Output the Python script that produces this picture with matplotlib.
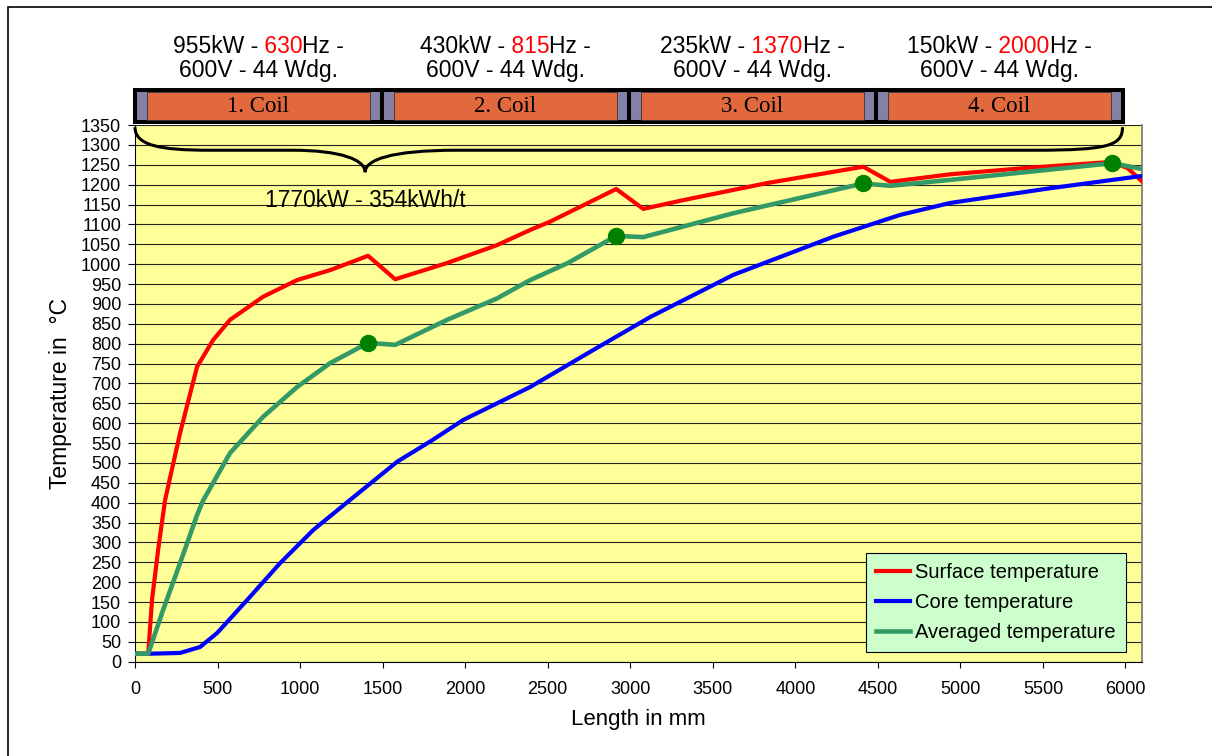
import numpy as np
import matplotlib.pyplot as plt
from matplotlib.patches import Rectangle, PathPatch
from matplotlib.path import Path
from matplotlib import transforms

plt.rcParams['font.family'] = ['Liberation Sans', 'DejaVu Sans']

# temperatures (length in mm, temperature in degC)
surface_x = [0, 80, 103, 140, 182, 205, 273, 376, 473, 576, 776, 982, 1182, 1412,
             1576, 1891, 2194, 2394, 2515, 2915, 3079, 3321, 3830, 4412, 4576, 4939,
             5400, 5909, 6012, 6103]
surface_t = [20, 20, 155, 281, 406, 449, 575, 742, 809, 860, 918, 960, 985, 1021,
             962, 1003, 1048, 1086, 1107, 1189, 1139, 1161, 1204, 1245, 1207, 1226,
             1242, 1257, 1242, 1207]

core_x = [0, 80, 273, 394, 497, 679, 879, 1079, 1303, 1588, 1800, 1988, 2394, 2776,
          3121, 3624, 4230, 4636, 4939, 5545, 6103]
core_t = [20, 20, 22, 37, 72, 155, 248, 331, 407, 503, 557, 608, 691, 784,
          867, 973, 1069, 1124, 1154, 1191, 1222]

avg_x = [0, 80, 170, 273, 376, 412, 576, 776, 982, 1182, 1412, 1576, 1891, 2194,
         2394, 2618, 2915, 3079, 3624, 4412, 4576, 4939, 5921, 6103]
avg_t = [20, 20, 130, 248, 369, 405, 525, 616, 691, 751, 802, 797, 860, 914,
         960, 1002, 1071, 1068, 1128, 1203, 1197, 1212, 1254, 1239]

marker_x = [1412, 2915, 4412, 5921]
marker_t = [802, 1071, 1203, 1254]

coil_start = [0, 1496, 2992, 4488]
coil_len = 1496
coil_power = ['955kW', '430kW', '235kW', '150kW']
coil_freq = ['630', '815', '1370', '2000']
coil_line2 = '600V - 44 Wdg.'
total_label = '1770kW - 354kWh/t'

fig = plt.figure(figsize=(12.12, 7.56), dpi=100)
ax = fig.add_axes([135/1212, 1-661.7/756, 1007/1212, 536.7/756])
ax.set_facecolor('#FFFF99')

ax.plot(surface_x, surface_t, color='#FF0000', lw=3, label='Surface temperature',
        zorder=3, solid_joinstyle='round')
ax.plot(core_x, core_t, color='#0000FF', lw=3, label='Core temperature',
        zorder=3, solid_joinstyle='round')
ax.plot(avg_x, avg_t, color='#339966', lw=3.3, label='Averaged temperature',
        zorder=3, solid_joinstyle='round')
ax.plot(marker_x, marker_t, 'o', color='#008000', ms=11.5, zorder=4)

ax.set_xlim(0, 6100)
ax.set_ylim(0, 1350)
ax.set_xticks(np.arange(0, 6001, 500))
ax.set_yticks(np.arange(0, 1351, 50))
ax.yaxis.grid(True, color='#222222', lw=0.8)
ax.set_axisbelow(True)
ax.tick_params(axis='y', labelsize=13, length=5, pad=5)
ax.tick_params(axis='x', labelsize=13, length=4, pad=10)
ax.spines['top'].set_visible(False)
ax.spines['right'].set_color('#808080')
ax.spines['right'].set_linewidth(1.3)
ax.set_xlabel('Length in mm', fontsize=16, labelpad=8)
ax.set_ylabel('Temperature in  °C', fontsize=16.5, labelpad=6)

leg = ax.legend(loc='lower right', bbox_to_anchor=(0.984, 0.018), borderaxespad=0,
                fontsize=14.5, facecolor='#CCFFCC', edgecolor='black', framealpha=1,
                fancybox=False, handlelength=1.7, handletextpad=0.25, labelspacing=0.55,
                borderpad=0.5)
leg.get_frame().set_linewidth(0.8)

trans = transforms.blended_transform_factory(ax.transData, ax.transAxes)

# coil bar above the plot
cap = 72
for i, x0 in enumerate(coil_start):
    ax.add_patch(Rectangle((x0, 1.0056), coil_len, 0.0596, transform=trans,
                           facecolor='#8580A8', edgecolor='black', lw=2.9,
                           clip_on=False, zorder=5))
    ax.add_patch(Rectangle((x0 + cap, 1.0093), coil_len - 2*cap, 0.0522, transform=trans,
                           facecolor='#E2693E', edgecolor='#333333', lw=0.6,
                           clip_on=False, zorder=6))
    ax.text(x0 + coil_len/2, 1.0354, f'{i+1}. Coil', family=['Liberation Serif', 'DejaVu Serif'],
            fontsize=16.5, ha='center', va='center', transform=trans, zorder=7)

# header text, frequency in red
groups = []
for i, x0 in enumerate(coil_start):
    xc = x0 + coil_len/2
    t0 = ax.text(xc, 1.1347, coil_power[i] + ' -', fontsize=16.5, ha='left',
                 va='baseline', transform=trans)
    t1 = ax.annotate(' ' + coil_freq[i], xy=(1, 0), xycoords=t0, va='bottom',
                     ha='left', color='#FF0000', fontsize=16.5)
    t2 = ax.annotate('Hz -', xy=(1, 0), xycoords=t1, va='bottom', ha='left',
                     fontsize=16.5)
    groups.append((t0, t2))
    ax.text(xc, 1.090, coil_line2, fontsize=16.5, ha='center', va='baseline',
            transform=trans)

# curly brace spanning all coils
brace = Path([(0, 0.996), (0, 0.962), (150, 0.953), (450, 0.953),
              (950, 0.953),
              (1250, 0.953), (1394, 0.935), (1394, 0.912),
              (1394, 0.935), (1550, 0.953), (1950, 0.953),
              (5450, 0.953),
              (5900, 0.953), (5982, 0.962), (5982, 0.996)],
             [Path.MOVETO, Path.CURVE4, Path.CURVE4, Path.CURVE4,
              Path.LINETO,
              Path.CURVE4, Path.CURVE4, Path.CURVE4,
              Path.CURVE4, Path.CURVE4, Path.CURVE4,
              Path.LINETO,
              Path.CURVE4, Path.CURVE4, Path.CURVE4])
ax.add_patch(PathPatch(brace, transform=trans, fill=False, edgecolor='black', lw=2.2,
                       clip_on=False, zorder=5))
ax.text(1394, 0.859, total_label, fontsize=16.5, ha='center', va='center', transform=trans)

# outer frame
fig.add_artist(Rectangle((8/1212, -0.5), 2, 1.5 - 7/756, transform=fig.transFigure,
                         fill=False, edgecolor='black', lw=1.2))

fig.canvas.draw()
r = fig.canvas.get_renderer()
for t0, t2 in groups:
    w = t2.get_window_extent(r).x1 - t0.get_window_extent(r).x0
    t0.set_transform(trans + transforms.ScaledTranslation(-w/2/fig.dpi, 0, fig.dpi_scale_trans))

fig.savefig('out.png', dpi=100)
